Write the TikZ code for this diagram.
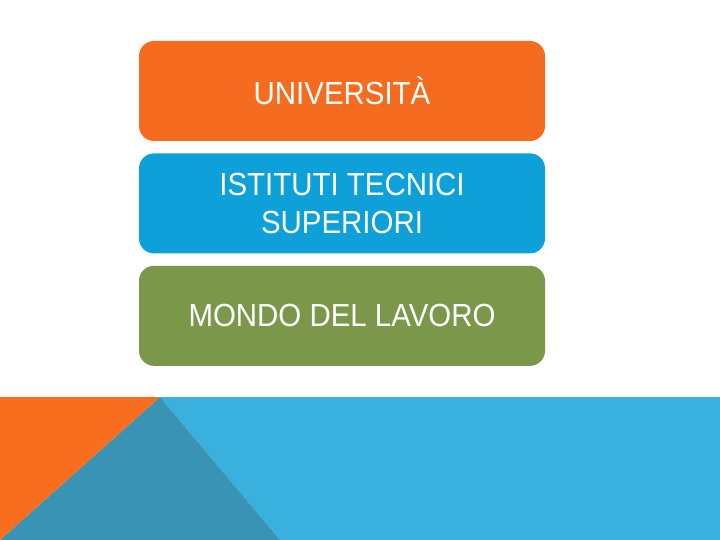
\documentclass[tikz,border=0pt]{standalone}
\usepackage{fontspec}
\setmainfont{Liberation Sans}
\usetikzlibrary{positioning}
\definecolor{boxorange}{RGB}{245,108,32}
\definecolor{boxblue}{RGB}{14,160,216}
\definecolor{boxgreen}{RGB}{122,151,74}
\definecolor{bandblue}{RGB}{58,176,222}
\definecolor{bandteal}{RGB}{57,147,181}
\definecolor{bandorange}{RGB}{248,110,30}
\begin{document}
\begin{tikzpicture}[%
        x=1pt, y=-1pt,
        every node/.style={rounded corners=15pt, minimum width=406pt, minimum height=100pt,
          inner sep=0pt, text=white, align=center,
          font=\fontsize{32}{38}\selectfont},
        node distance=12pt
      ]
      \useasboundingbox (0,0) rectangle (720,540);
      % bottom band
      \fill [bandblue] (160,397) -- (720,397) -- (720,540) -- (280,540) -- cycle;
      \fill [bandteal] (160,397) -- (280,540) -- (0,540) -- cycle;
      \fill [bandorange] (0,397) -- (160,397) -- (0,540) -- cycle;
      % boxes
      \node [fill=boxorange] (uni) at (342,91) {\scalebox{0.92}[1]{UNIVERSITÀ}};
      \node [fill=boxblue, below=of uni] (its) {\scalebox{0.92}[1]{ISTITUTI TECNICI}\\\scalebox{0.92}[1]{SUPERIORI}};
      \node [fill=boxgreen, below=of its] (lavoro) {\scalebox{0.92}[1]{MONDO DEL LAVORO}};
    \end{tikzpicture}
\end{document}
